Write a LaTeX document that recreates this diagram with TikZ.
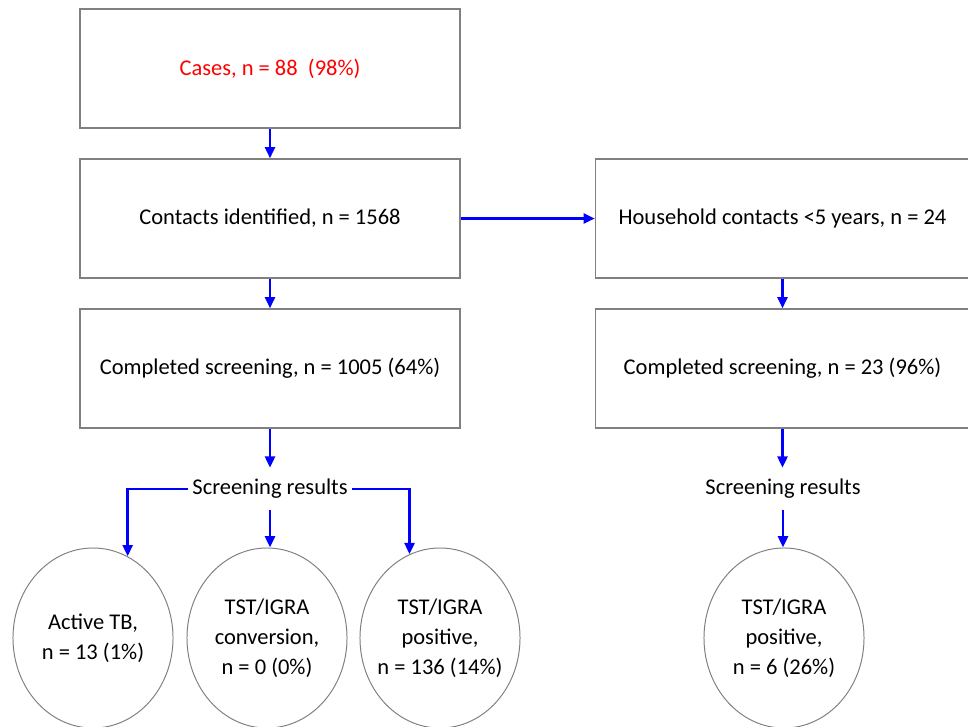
\documentclass[tikz,border=0pt]{standalone}
\usepackage{fontspec}
\setmainfont{Carlito}
\usetikzlibrary{shapes.geometric,arrows.meta}

\begin{document}
\begin{tikzpicture}[x=0.025cm,y=-0.025cm,
    font=\fontsize{16}{21.3}\selectfont,
    box/.style={draw=black!50, line width=0.9pt, minimum width=9.5cm, minimum height=2.975cm, inner sep=0pt},
    rbox/.style={box, minimum width=9.35cm},
    circ/.style={ellipse, draw=black!50, line width=0.7pt, minimum width=4cm, minimum height=4.5cm, inner xsep=-5pt, align=center},
    res/.style={inner xsep=3pt, inner ysep=8pt},
    arr/.style={draw=blue, line width=1.9pt, -{Triangle[length=8pt,width=7pt]}}]
    \useasboundingbox (0,0) rectangle (968,726);

    \node[box, text=red] (cases) at (270,68.5) {Cases, n = 88\ \ (98\%)};
    \node[box] (cont) at (270,218.5) {Contacts identified, n = 1568};
    \node[box] (comp) at (270,368.5) {Completed screening, n = 1005 (64\%)};
    \node[rbox] (hh) at (782.5,218.5) {Household contacts <5 years, n = 24};
    \node[rbox] (hcomp) at (782.5,368.5) {Completed screening, n = 23 (96\%)};

    \node[res] (res) at (270,489) {Screening results};
    \node[res] (hres) at (783,489) {Screening results};

    \node[circ] (act) at (93,638) {Active TB,\\ n = 13 (1\%)};
    \node[circ] (conv) at (267,638) {TST/IGRA\\ conversion,\\ n = 0 (0\%)};
    \node[circ] (pos) at (440,638) {TST/IGRA\\ positive,\\ n = 136 (14\%)};
    \node[circ] (hpos) at (784,638) {TST/IGRA\\ positive,\\ n = 6 (26\%)};

    \draw[arr] (cases) -- (cont);
    \draw[arr] (cont) -- (comp);
    \draw[arr] (cont) -- (hh);
    \draw[arr] (hh.south) -- (hh.south |- hcomp.north);
    \draw[arr] (comp) -- (res);
    \draw[arr] (res.west) -| (act.67);
    \draw[arr] (res.south) -- (res.south |- conv.north);
    \draw[arr] (res.east) -| (pos.110);
    \draw[arr] (hcomp.south) -- (hcomp.south |- hres.north);
    \draw[arr] (hres.south) -- (hres.south |- hpos.north);
\end{tikzpicture}
\end{document}
